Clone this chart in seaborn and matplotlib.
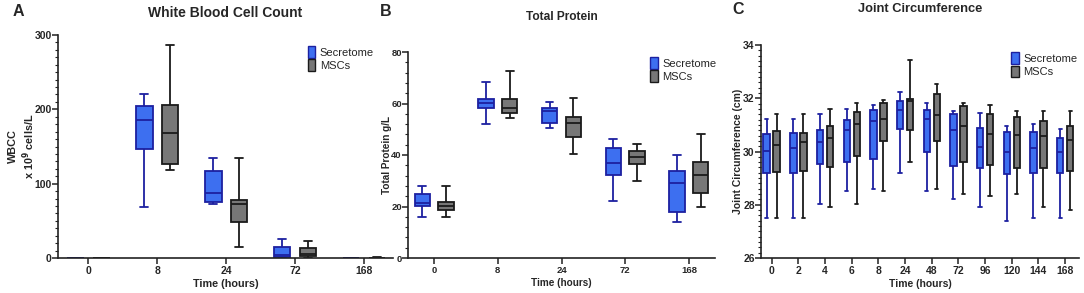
import pandas as pd
import matplotlib
matplotlib.use("Agg")
import matplotlib.pyplot as plt
from matplotlib.patches import Patch
from matplotlib.ticker import MultipleLocator
import seaborn as sns

sns.set_style("ticks")
plt.rcParams['font.family'] = ['Liberation Sans', 'DejaVu Sans']

groups = ["Secretome", "MSCs"]
blue, navy = "#3d6ff0", "#1c20a0"
gray, black = "#777777", "#1a1a1a"

# five-number summaries: min, q1, median, q3, max
wbc_times = ["0", "8", "24", "72", "168"]
wbc_secretome = [[0, 0, 0.2, 0.4, 0.6], [69, 146, 186, 204, 221], [72, 76, 87, 117, 134],
                 [0.5, 2, 4, 15, 25.5], [0, 0, 0.2, 0.4, 0.6]]
wbc_mscs = [[0, 0.1, 0.2, 0.3, 0.5], [118, 127, 168, 206, 287], [15, 48, 73, 78, 135],
            [0.5, 3, 5, 13.5, 23], [0, 0.2, 0.4, 0.6, 1.0]]

tp_times = ["0", "8", "24", "72", "168"]
tp_secretome = [[16, 20.1, 21.4, 24.8, 28], [52.2, 58.4, 60.1, 61.6, 68.4], [50.3, 52.4, 57, 58.2, 60.5],
                [22.1, 32.2, 37, 42.9, 46.2], [14, 17.8, 29.2, 33.9, 40.1]]
tp_mscs = [[16, 18.8, 20.1, 21.6, 28], [54.4, 56.5, 58.2, 61.8, 72.5], [40.3, 46.9, 52.3, 54.9, 62.3],
           [30, 36.5, 39.3, 41.7, 44.2], [20, 25.3, 32.2, 37.3, 48.2]]

jc_times = ["0", "2", "4", "6", "8", "24", "48", "72", "96", "120", "144", "168"]
jc_secretome = [[27.5, 29.2, 30.02, 30.66, 31.23], [27.51, 29.2, 30.12, 30.69, 31.23],
                [28.01, 29.52, 30.35, 30.79, 31.41], [28.51, 29.62, 30.81, 31.19, 31.6],
                [28.61, 29.72, 31.16, 31.54, 31.73], [29.2, 30.84, 31.57, 31.9, 32.23],
                [28.51, 29.99, 31.23, 31.57, 31.84], [28.21, 29.45, 30.79, 31.39, 31.53],
                [27.92, 29.37, 30.16, 30.89, 31.44], [27.39, 29.15, 29.97, 30.75, 30.94],
                [27.51, 29.2, 30.12, 30.75, 31.03], [27.51, 29.18, 29.97, 30.5, 30.84]]
jc_mscs = [[27.5, 29.24, 30.23, 30.77, 31.41], [27.51, 29.28, 30.35, 30.69, 31.41],
           [27.92, 29.4, 30.51, 30.96, 31.6], [28.01, 29.84, 31.03, 31.5, 31.84],
           [28.51, 30.4, 31.21, 31.82, 31.92], [29.62, 30.81, 31.88, 31.97, 33.42],
           [28.61, 30.4, 31.38, 32.16, 32.53], [28.41, 29.62, 30.96, 31.7, 31.84],
           [28.31, 29.5, 30.66, 31.41, 31.73], [28.41, 29.37, 30.62, 31.28, 31.53],
           [27.92, 29.37, 30.57, 31.15, 31.53], [27.8, 29.27, 30.43, 30.96, 31.53]]


def long_frame(times, sec, msc):
    rows = []
    for t, s, m in zip(times, sec, msc):
        rows += [(t, "Secretome", v) for v in s]
        rows += [(t, "MSCs", v) for v in m]
    return pd.DataFrame(rows, columns=["time", "group", "value"])


def panel(ax, df, times, ylim, major, minor, ylabel, tick_fs, lab_fs, xlim, leg_anchor, ylab_x):
    sns.boxplot(data=df, x="time", y="value", hue="group", order=times, hue_order=groups,
                palette={"Secretome": blue, "MSCs": gray}, whis=(0, 100), showfliers=False,
                width=0.75, gap=0.36, linewidth=1.3, linecolor=black, saturation=1,
                legend=False, ax=ax)
    # outline colour follows the group
    for c in ax.containers:
        fc = c.boxes[0].get_facecolor()
        edge = navy if fc[2] > fc[0] + 0.2 else black
        for b in c.boxes:
            b.set_edgecolor(edge)
        for ln in list(c.whiskers) + list(c.caps) + list(c.medians):
            ln.set_color(edge)
    ax.set_ylim(*ylim)
    ax.set_xlim(*xlim)
    ax.yaxis.set_major_locator(MultipleLocator(major))
    ax.yaxis.set_minor_locator(MultipleLocator(minor))
    ax.tick_params(axis="both", which="major", length=4, width=1.1, color="#222222",
                   labelsize=tick_fs)
    ax.tick_params(axis="x", which="major", pad=2)
    ax.tick_params(axis="y", which="major", pad=0.5)
    ax.tick_params(axis="y", which="minor", length=2, width=0.8, color="#222222")
    for lab in ax.get_xticklabels() + ax.get_yticklabels():
        lab.set_fontweight("bold")
    for s in ("left", "bottom"):
        ax.spines[s].set_linewidth(1.2)
        ax.spines[s].set_color("#222222")
    sns.despine(ax=ax)
    ax.set_xlabel("Time (hours)", fontsize=lab_fs, fontweight="bold", labelpad=2)
    ax.set_ylabel(ylabel, fontsize=lab_fs, fontweight="bold")
    ax.yaxis.set_label_coords(ylab_x, 0.5)
    handles = [Patch(facecolor=blue, edgecolor=navy, linewidth=1, label="Secretome"),
               Patch(facecolor=gray, edgecolor=black, linewidth=1, label="MSCs")]
    ax.legend(handles=handles, loc="upper left", bbox_to_anchor=leg_anchor, frameon=False,
              fontsize=8, handlelength=0.7, handleheight=1.2, handletextpad=0.4,
              labelspacing=0.15, borderpad=0, borderaxespad=0)


W, H = 1084, 293
fig = plt.figure(figsize=(W / 100, H / 100), dpi=100)


def box(l, r, t, b):
    return [l / W, (H - b) / H, (r - l) / W, (b - t) / H]


axA = fig.add_axes(box(58, 393, 35, 258))
axB = fig.add_axes(box(408, 715, 52, 258))
axC = fig.add_axes(box(761, 1079, 45, 258))

panel(axA, long_frame(wbc_times, wbc_secretome, wbc_mscs), wbc_times, (0, 300), 100, 10,
      "WBCC\nx 10$^{\\mathbf{9}}$ cells/L", 7.5, 7.8, (-0.44, 4.42), (0.745, 0.95), -0.062)
panel(axB, long_frame(tp_times, tp_secretome, tp_mscs), tp_times, (0, 80), 20, 4,
      "Total Protein g/L", 6.8, 7.2, (-0.41, 4.41), (0.788, 0.975), -0.052)
panel(axC, long_frame(jc_times, jc_secretome, jc_mscs), jc_times, (26, 34), 2, 0.2,
      "Joint Circumference (cm)", 7.5, 7.5, (-0.4, 11.52), (0.786, 0.965), -0.057)

fig.text(225 / W, 1 - 13 / H, "White Blood Cell Count", ha="center", va="center",
         fontsize=10, fontweight="bold")
fig.text(561.5 / W, 1 - 17.5 / H, "Total Protein", ha="center", va="center",
         fontsize=8.6, fontweight="bold")
fig.text(920 / W, 1 - 9.5 / H, "Joint Circumference", ha="center", va="center",
         fontsize=9.3, fontweight="bold")
for letter, x, y in [("A", 18, 12), ("B", 386, 11), ("C", 738, 10)]:
    fig.text(x / W, 1 - y / H, letter, ha="center", va="center", fontsize=11.5,
             fontweight="bold")

fig.savefig("out.png", dpi=100)
